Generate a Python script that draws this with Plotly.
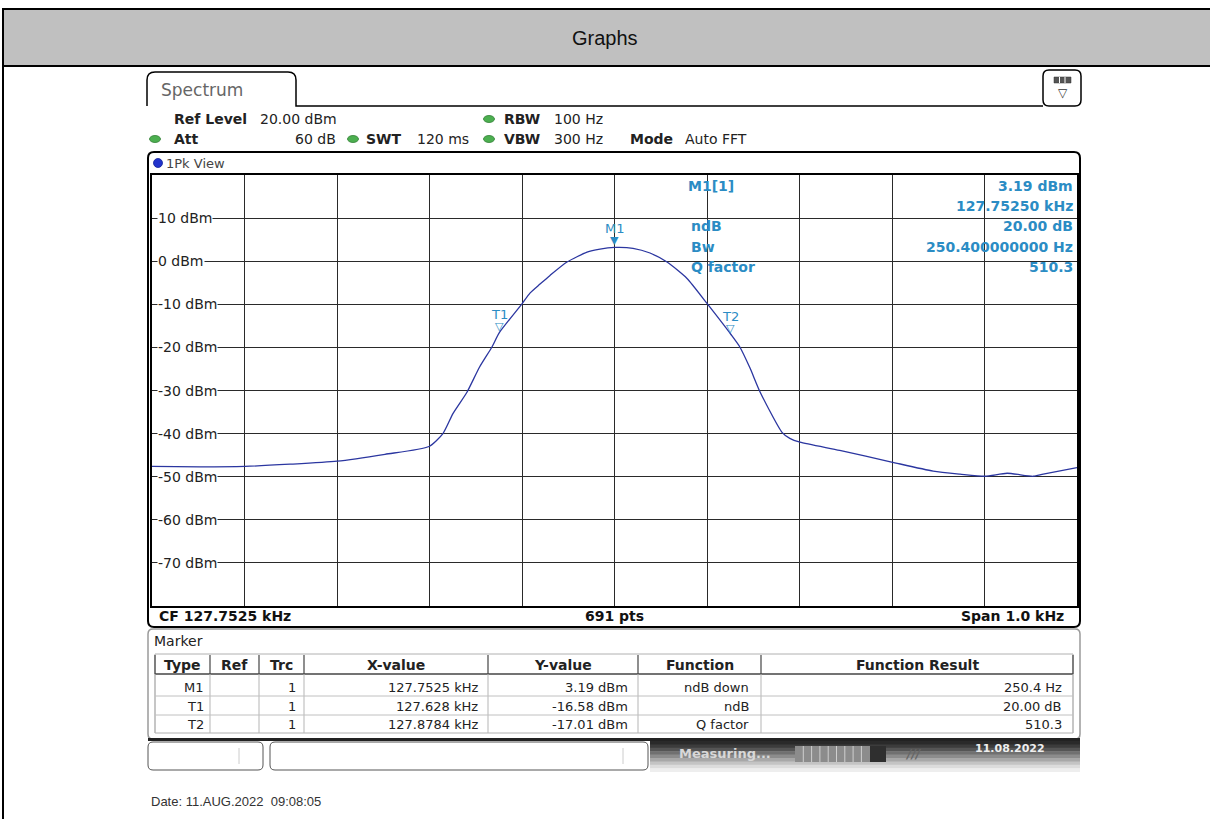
import plotly.graph_objects as go

# ---------------- data ----------------
freq_khz = [127.2525, 127.3044, 127.3530, 127.4017, 127.4525, 127.5044, 127.5520,
            127.5670, 127.5780, 127.5930, 127.6065, 127.6200, 127.6280, 127.6525,
            127.6611, 127.6720, 127.6828, 127.7011, 127.7228, 127.7368, 127.7525,
            127.7725, 127.7909, 127.8093, 127.8309, 127.8525, 127.8784, 127.8880,
            127.8990, 127.9100, 127.9336, 127.9420, 127.9530, 127.9960, 128.0520,
            128.0970, 128.1260, 128.1530, 128.1770, 128.2050, 128.2160, 128.2525]
level_dbm = [-47.6, -47.7, -47.6, -47.1, -46.4, -44.8, -43.0,
             -40.0, -35.3, -30.4, -24.6, -19.9, -16.58, -9.9,
             -7.4, -5.3, -3.3, -0.2, 2.1, 2.8, 3.19,
             3.0, 1.9, -0.2, -4.0, -9.8, -17.01, -19.9,
             -24.8, -30.4, -39.7, -41.1, -42.0, -43.9, -46.6,
             -48.7, -49.4, -49.9, -49.2, -49.9, -49.4, -47.9]

center_khz = 127.7525
span_khz = 1.0
ref_level = 20
y_bottom = -80
y_tick_values = [10, 0, -10, -20, -30, -40, -50, -60, -70]

marker_names = ["M1", "T1", "T2"]
marker_freq = [127.7525, 127.628, 127.8784]
marker_level = [3.19, -16.58, -17.01]

table_headers = ["Type", "Ref", "Trc", "X-value", "Y-value", "Function", "Function Result"]
table_type = ["M1", "T1", "T2"]
table_trc = ["1", "1", "1"]
table_x = ["127.7525 kHz", "127.628 kHz", "127.8784 kHz"]
table_y = ["3.19 dBm", "-16.58 dBm", "-17.01 dBm"]
table_func = ["ndB down", "ndB", "Q factor"]
table_result = ["250.4 Hz", "20.00 dB", "510.3"]

info_labels = ["ndB", "Bw", "Q factor"]
info_values = ["20.00 dB", "250.400000000 Hz", "510.3"]

# ---------------- geometry helpers ----------------
W, H = 1210, 819
L, R, T, B = 152, 1077, 175, 606
INST = "DejaVu Sans"
ARIAL = "Liberation Sans, Arial"
BLUE = "#2B8CC4"


def X(px):
    return (px - L) / (R - L)


def Y(py):
    return (B - py) / (B - T)


shapes, ann = [], []


def rect(x0, y0, x1, y1, fill=None, line=None, lw=1, layer="above"):
    shapes.append(dict(type="rect", xref="paper", yref="paper",
                       x0=X(x0), x1=X(x1), y0=Y(y1), y1=Y(y0),
                       fillcolor=fill or "rgba(0,0,0,0)",
                       line=dict(color=line or "rgba(0,0,0,0)", width=lw if line else 0),
                       layer=layer))


def seg(x0, y0, x1, y1, color="#000", lw=1):
    shapes.append(dict(type="line", xref="paper", yref="paper",
                       x0=X(x0), x1=X(x1), y0=Y(y0), y1=Y(y1),
                       line=dict(color=color, width=lw)))


def rrect(x0, y0, x1, y1, r, line="#000", lw=1, fill=None):
    p = (f"M {X(x0 + r)},{Y(y0)} L {X(x1 - r)},{Y(y0)} Q {X(x1)},{Y(y0)} {X(x1)},{Y(y0 + r)} "
         f"L {X(x1)},{Y(y1 - r)} Q {X(x1)},{Y(y1)} {X(x1 - r)},{Y(y1)} "
         f"L {X(x0 + r)},{Y(y1)} Q {X(x0)},{Y(y1)} {X(x0)},{Y(y1 - r)} "
         f"L {X(x0)},{Y(y0 + r)} Q {X(x0)},{Y(y0)} {X(x0 + r)},{Y(y0)} Z")
    shapes.append(dict(type="path", xref="paper", yref="paper", path=p,
                       fillcolor=fill or "rgba(0,0,0,0)", line=dict(color=line, width=lw)))


def pth(d, line="#000", lw=1):
    shapes.append(dict(type="path", xref="paper", yref="paper", path=d,
                       line=dict(color=line, width=lw)))


def ellipse(cx, cy, rx, ry, fill, line):
    shapes.append(dict(type="circle", xref="paper", yref="paper",
                       x0=X(cx - rx), x1=X(cx + rx), y0=Y(cy + ry), y1=Y(cy - ry),
                       fillcolor=fill, line=dict(color=line, width=0.8)))


def txt(s, px, py, size=14, color="#222", xa="left", font=INST, bg=None):
    d = dict(text=s, x=X(px), y=Y(py), xref="paper", yref="paper", showarrow=False,
             xanchor=xa, yanchor="middle", font=dict(family=font, size=size, color=color))
    if bg:
        d.update(bgcolor=bg, borderpad=0)
    ann.append(d)


# ---------------- page header ----------------
rect(3, 9, 1214, 66, fill="#C0C0C0", line="#000", lw=2)
seg(3, 9, 3, 822, "#000", 2)
txt("Graphs", 605, 38, size=20, color="#111", xa="center", font=ARIAL)

# ---------------- tab + top bar ----------------
pth(f"M {X(147)},{Y(106)} L {X(147)},{Y(80)} Q {X(147)},{Y(72)} {X(155)},{Y(72)} "
    f"L {X(288)},{Y(72)} Q {X(296)},{Y(72)} {X(296)},{Y(80)} L {X(296)},{Y(106)} L {X(1043)},{Y(106)}",
    "#000", 1.5)
txt("Spectrum", 159, 90, size=17, color="#666")
rrect(1043, 70, 1081, 106, 6, "#000", 1.5)
rect(1054, 77, 1071, 83, fill="#555", line="#333", lw=0.5)
for xx in (1059.5, 1065):
    seg(xx, 77, xx, 83, "#fff", 1)
txt("▽", 1062.5, 93, size=12, color="#333", xa="center")

# info lines
txt("<b>Ref Level</b>", 172, 119)
txt("20.00 dBm", 258, 119)
ellipse(489, 119, 5.5, 3.5, "#4CAF50", "#2E7D32")
txt("<b>RBW</b>", 502, 119)
txt("100 Hz", 552, 119)
ellipse(155, 139, 5.5, 3.5, "#4CAF50", "#2E7D32")
txt("<b>Att</b>", 172, 139)
txt("60 dB", 338, 139, xa="right")
ellipse(353, 139, 5.5, 3.5, "#4CAF50", "#2E7D32")
txt("<b>SWT</b>", 364, 139)
txt("120 ms", 415, 139)
ellipse(489, 139, 5.5, 3.5, "#4CAF50", "#2E7D32")
txt("<b>VBW</b>", 502, 139)
txt("300 Hz", 552, 139)
txt("<b>Mode</b>", 628, 139)
txt("Auto FFT", 683, 139)

# graph frame
rrect(148, 152, 1080, 627, 6, "#000", 2)
ellipse(158, 163, 4.5, 4.5, "#2233CC", "#112299")
txt("1Pk View", 164, 163, size=13, color="#444")
txt("<b>CF 127.7525 kHz</b>", 157, 616, size=14, color="#111")
txt("<b>691 pts</b>", 614, 616, size=14, color="#111", xa="center")
txt("<b>Span 1.0 kHz</b>", 1066, 616, size=14, color="#111", xa="right")

# mask for marker info area (above grid, below trace)
shapes.append(dict(type="rect", xref="paper", yref="paper", x0=X(688), x1=X(1076),
                   y0=Y(278), y1=Y(176), fillcolor="#fff", line=dict(width=0), layer="between"))

# marker info block
txt("<b>M1[1]</b>", 686, 186, size=14, color=BLUE)
txt(f"<b>{marker_level[0]:.2f} dBm</b>", 1075, 186, size=14, color=BLUE, xa="right")
txt(f"<b>{marker_freq[0]:.5f} kHz</b>", 1075, 206, size=14, color=BLUE, xa="right")
for i, (lab, val) in enumerate(zip(info_labels, info_values)):
    yy = 226 + i * 20.5
    txt(f"<b>{lab}</b>", 689, yy, size=14, color=BLUE)
    txt(f"<b>{val}</b>", 1075, yy, size=14, color=BLUE, xa="right")

# y tick labels (masking grid behind them)
for v in y_tick_values:
    py = T + (ref_level - v) / (ref_level - y_bottom) * (B - T)
    txt(f"{v} dBm", 157, py, size=14, color="#222", bg="#fff")

# ---------------- marker table ----------------
rrect(148, 629, 1080, 739, 5, "#9a9a9a", 1.5)
txt("Marker", 152, 641, size=14, color="#222")
cols = [155, 210, 259, 304, 488, 638, 761, 1073]
rect(155, 654, 1073, 733, line="#b0b0b0", lw=1)
seg(155, 674, 1073, 674, "#444", 1.5)
for cx in cols:
    seg(cx, 655, cx, 674, "#444", 1.2)
    seg(cx, 674, cx, 733, "#b5b5b5", 1)
for ry in (696, 715):
    seg(155, ry, 1073, ry, "#c0c0c0", 1)
for i, h in enumerate(table_headers):
    txt(f"<b>{h}</b>", (cols[i] + cols[i + 1]) / 2, 665, size=14, color="#222", xa="center")
row_y = [687, 706, 724]
for i in range(3):
    yy = row_y[i]
    txt(table_type[i], 206, yy, size=13, xa="right")
    txt(table_trc[i], 298, yy, size=13, xa="right")
    txt(table_x[i], 480, yy, size=13, xa="right")
    txt(table_y[i], 630, yy, size=13, xa="right")
    txt(table_func[i], 751, yy, size=13, xa="right")
    txt(table_result[i], 1064, yy, size=13, xa="right")

# ---------------- status bar ----------------
seg(148, 739.5, 1080, 739.5, "#222", 3)
grays = ["#2a2a2a", "#3c3c3c", "#555", "#707070", "#8c8c8c", "#a8a8a8", "#c4c4c4", "#dcdcdc", "#eeeeee"]
for i, g in enumerate(grays):
    rect(650, 741 + i * 3.4, 1080, 741 + (i + 1) * 3.4 + 0.5, fill=g)
rrect(148, 742, 263, 770, 5, "#555", 1)
seg(239, 748, 239, 764, "#ccc", 1)
rrect(270, 742, 648, 770, 5, "#555", 1)
seg(623, 748, 623, 764, "#ccc", 1)
txt("<b>Measuring...</b>", 677, 753, size=13, color="#d8d8d8")
rect(795, 746, 870, 762, fill="#8c8c8c")
for k in range(1, 9):
    seg(795 + k * 8.3, 746, 795 + k * 8.3, 762, "#cfcfcf", 1)
rect(870, 746, 886, 762, fill="#2f2f2f")
txt("<b><i>///</i></b>", 903, 754, size=12, color="#666")
txt("<b>11.08.2022</b>", 1010, 748, size=11, color="#eeeeee", xa="center")

# date line
txt("Date: 11.AUG.2022  09:08:05", 149, 801, size=13, color="#333", font=ARIAL)

# ---------------- figure ----------------
fig = go.Figure()
fig.add_trace(go.Scatter(x=freq_khz, y=level_dbm, mode="lines",
                         line=dict(color="#2B36A0", width=1.3, shape="spline", smoothing=0.6),
                         hoverinfo="skip"))

# marker symbols + labels at the marker data points
for name, fx, fy in zip(marker_names, marker_freq, marker_level):
    sym = "▼" if name == "M1" else "▽"
    ann.append(dict(text=sym, x=fx, y=fy, xref="x", yref="y", showarrow=False,
                    xanchor="center", yanchor="bottom", yshift=-2,
                    font=dict(family=INST, size=11, color=BLUE)))
    ann.append(dict(text=name, x=fx, y=fy, xref="x", yref="y", showarrow=False,
                    xanchor="center", yanchor="bottom", yshift=9,
                    font=dict(family=INST, size=13, color=BLUE)))

x0 = center_khz - span_khz / 2
fig.update_xaxes(range=[x0, x0 + span_khz], tick0=x0, dtick=span_khz / 10,
                 showgrid=True, gridcolor="#2a2a2a", gridwidth=1, zeroline=False,
                 showticklabels=False, ticks="", showline=True, mirror=True,
                 linecolor="#000", linewidth=2)
fig.update_yaxes(range=[y_bottom, ref_level], tick0=0, dtick=10,
                 showgrid=True, gridcolor="#2a2a2a", gridwidth=1, zeroline=False,
                 showticklabels=False, ticks="", showline=True, mirror=True,
                 linecolor="#000", linewidth=2)
fig.update_layout(width=W, height=H, margin=dict(l=L, r=W - R, t=T, b=H - B, pad=0),
                  paper_bgcolor="#fff", plot_bgcolor="#fff", showlegend=False,
                  shapes=shapes, annotations=ann)
fig.write_html("out.html", config={"displayModeBar": False},
               post_script="document.body.style.margin='0';document.body.style.overflow='hidden';")
